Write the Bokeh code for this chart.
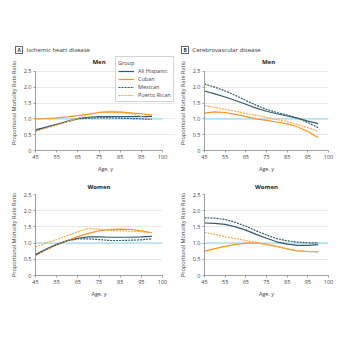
from bokeh.plotting import figure
from bokeh.layouts import row, column
from bokeh.models import FixedTicker, Label, Legend, LegendItem, Range1d, Div
from bokeh.embed import file_html
from bokeh.resources import INLINE

ages = [45, 50, 55, 60, 65, 70, 75, 80, 85, 90, 95, 100]
groups = ["All Hispanic", "Cuban", "Mexican", "Puerto Rican"]

# Ischemic heart disease, men
ihd_men_all = [0.65, 0.74, 0.83, 0.92, 1.01, 1.05, 1.07, 1.07, 1.07, 1.07, 1.07, 1.08]
ihd_men_cuban = [1.00, 1.01, 1.03, 1.06, 1.10, 1.15, 1.20, 1.22, 1.21, 1.19, 1.16, 1.12]
ihd_men_mexican = [0.63, 0.72, 0.82, 0.91, 1.00, 1.02, 1.03, 1.03, 1.02, 1.01, 1.00, 0.98]
ihd_men_pr = [0.60, 0.70, 0.80, 0.91, 1.02, 1.13, 1.21, 1.24, 1.22, 1.16, 1.08, 0.97]

# Cerebrovascular disease, men
cvd_men_all = [1.88, 1.79, 1.69, 1.58, 1.46, 1.34, 1.24, 1.16, 1.09, 1.02, 0.93, 0.85]
cvd_men_cuban = [1.18, 1.22, 1.20, 1.14, 1.07, 1.00, 0.95, 0.90, 0.84, 0.75, 0.60, 0.40]
cvd_men_mexican = [2.10, 2.00, 1.88, 1.74, 1.58, 1.43, 1.30, 1.20, 1.12, 1.02, 0.88, 0.72]
cvd_men_pr = [1.42, 1.36, 1.30, 1.24, 1.17, 1.11, 1.05, 0.98, 0.91, 0.82, 0.72, 0.60]

# Ischemic heart disease, women
ihd_women_all = [0.65, 0.82, 0.96, 1.08, 1.15, 1.19, 1.19, 1.18, 1.18, 1.18, 1.19, 1.21]
ihd_women_cuban = [0.62, 0.80, 0.95, 1.08, 1.20, 1.30, 1.38, 1.42, 1.43, 1.42, 1.38, 1.32]
ihd_women_mexican = [0.63, 0.80, 0.95, 1.07, 1.13, 1.13, 1.11, 1.08, 1.08, 1.09, 1.10, 1.13]
ihd_women_pr = [0.88, 1.00, 1.11, 1.23, 1.35, 1.45, 1.43, 1.39, 1.38, 1.37, 1.35, 1.32]

# Cerebrovascular disease, women
cvd_women_all = [1.62, 1.61, 1.58, 1.50, 1.40, 1.27, 1.15, 1.04, 0.97, 0.93, 0.93, 0.95]
cvd_women_cuban = [0.75, 0.83, 0.90, 0.96, 1.00, 1.01, 0.96, 0.90, 0.82, 0.76, 0.74, 0.73]
cvd_women_mexican = [1.78, 1.77, 1.73, 1.64, 1.52, 1.38, 1.25, 1.14, 1.07, 1.03, 1.01, 1.01]
cvd_women_pr = [1.33, 1.27, 1.20, 1.14, 1.08, 1.02, 0.96, 0.89, 0.82, 0.76, 0.74, 0.73]

x_ticks = [45, 55, 65, 75, 85, 95, 105]
x_tick_labels = ["45", "55", "65", "75", "85", "95", "100"]
y_ticks = [0, 0.5, 1.0, 1.5, 2.0, 2.5]
y_tick_labels = ["0", "0.5", "1.0", "1.5", "2.0", "2.5"]
reference_ratio = 1.0

DARK = "#325b6e"
ORANGE = "#f7941d"
ORANGE_LIGHT = "#f9a94b"
styles = {
    "All Hispanic": dict(line_color=DARK, line_dash="solid"),
    "Cuban": dict(line_color=ORANGE, line_dash="solid"),
    "Mexican": dict(line_color=DARK, line_dash="2 1"),
    "Puerto Rican": dict(line_color=ORANGE_LIGHT, line_dash="2 1"),
}
FONT = "Open Sans"
TXT = "#444444"


def make(series, title, h, bl, br, bt, bb, x_end=105, y_end=2.5, label_title=None, legend=False):
    p = figure(width=175, height=h, output_backend="svg", toolbar_location=None,
               x_range=Range1d(x_ticks[0], x_end), y_range=Range1d(y_ticks[0], y_end),
               min_border_left=bl, min_border_right=br, min_border_top=bt, min_border_bottom=bb,
               title=None if label_title else title)
    if not label_title:
        p.title.align = "center"
        p.title.text_font = FONT
        p.title.text_font_size = "6px"
        p.title.text_font_style = "bold"
        p.title.text_color = "#222222"
        p.title.standoff = 8
    p.outline_line_color = None
    p.background_fill_color = "white"
    p.border_fill_color = "white"
    p.xgrid.grid_line_color = None
    p.ygrid.grid_line_color = "#e3e3e3"
    p.ygrid.grid_line_width = 0.8
    p.ygrid.ticker = FixedTicker(ticks=y_ticks)
    p.ygrid.bounds = (x_ticks[0], x_ticks[-1])

    p.xaxis.ticker = FixedTicker(ticks=x_ticks)
    p.xaxis.major_label_overrides = {t: l for t, l in zip(x_ticks, x_tick_labels)}
    p.xaxis.bounds = (x_ticks[0], x_ticks[-1])
    p.yaxis.ticker = FixedTicker(ticks=y_ticks)
    p.yaxis.major_label_overrides = {t: l for t, l in zip(y_ticks, y_tick_labels)}
    p.yaxis.bounds = (y_ticks[0], y_ticks[-1])
    p.xaxis.axis_label = "Age, y"
    p.yaxis.axis_label = "Proportional Mortality Rate Ratio"
    for ax in (p.xaxis, p.yaxis):
        ax.axis_line_color = "#888888"
        ax.axis_line_width = 0.8
        ax.major_tick_line_color = "#888888"
        ax.major_tick_line_width = 0.8
        ax.major_tick_out = 2
        ax.major_tick_in = 0
        ax.minor_tick_line_color = None
        ax.major_label_text_font = FONT
        ax.major_label_text_font_size = "5.5px"
        ax.major_label_text_color = TXT
        ax.axis_label_text_font = FONT
        ax.axis_label_text_font_size = "5.5px"
        ax.axis_label_text_font_style = "normal"
        ax.axis_label_text_color = TXT
        ax.major_label_standoff = 2
        ax.axis_label_standoff = 3

    p.line([x_ticks[0], x_ticks[-1]], [reference_ratio, reference_ratio],
           line_color="#b8e2f2", line_width=1.6)

    items = []
    for g, ys in zip(groups, series):
        r = p.line(ages, ys, line_width=1.2, **styles[g])
        items.append(LegendItem(label=g, renderers=[r]))

    if label_title:
        cx, cy = label_title
        p.add_layout(Label(x=cx, y=cy, x_units="screen", y_units="screen", text=title,
                           text_font=FONT, text_font_size="6px", text_font_style="bold",
                           text_color="#222222", text_align="center", text_baseline="middle"))
    if legend:
        lg = Legend(items=items, location=(80, 48), title="Group",
                    title_text_font=FONT, title_text_font_size="5.5px", title_text_color=TXT,
                    title_text_font_style="normal", title_standoff=0,
                    label_text_font=FONT, label_text_font_size="5.5px", label_text_color=TXT,
                    label_text_line_height=1.0, title_text_line_height=1.0,
                    label_height=6, glyph_height=6, glyph_width=16, label_standoff=4,
                    spacing=0, padding=2, margin=0,
                    border_line_color="#aaaaaa", border_line_width=0.8,
                    background_fill_color="white", background_fill_alpha=1.0)
        p.add_layout(lg, "center")
    return p


def header(letter, text, left):
    html = (
        f'<div style="padding-top:46px; padding-left:{left}px; font-family:\'Open Sans\'; '
        f'font-size:6px; line-height:8px; color:#333; white-space:nowrap;">'
        f'<span style="display:inline-block; border:0.8px solid #666; padding:0 1.5px; '
        f'font-size:5px; line-height:6px; font-weight:bold; margin-right:3px; '
        f'vertical-align:middle;">{letter}</span>'
        f'<span style="vertical-align:middle;">{text}</span></div>'
    )
    return Div(text=html, width=175, height=55, margin=0)


a_men = make([ihd_men_all, ihd_men_cuban, ihd_men_mexican, ihd_men_pr], "Men",
             120, 35, 0, 0, 24, x_end=111.1, y_end=3.0, label_title=(63.5, 89), legend=True)
b_men = make([cvd_men_all, cvd_men_cuban, cvd_men_mexican, cvd_men_pr], "Men",
             120, 25, 22, 0, 24, y_end=3.0, label_title=(64, 89))
a_women = make([ihd_women_all, ihd_women_cuban, ihd_women_mexican, ihd_women_pr], "Women",
               175, 35, 13, 19, 75)
b_women = make([cvd_women_all, cvd_women_cuban, cvd_women_mexican, cvd_women_pr], "Women",
               175, 25, 22, 19, 75)

layout = column(
    row(header("A", "Ischemic heart disease", 15), header("B", "Cerebrovascular disease", 6)),
    row(a_men, b_men),
    row(a_women, b_women),
)
open("out.html", "w").write(file_html(layout, INLINE))
